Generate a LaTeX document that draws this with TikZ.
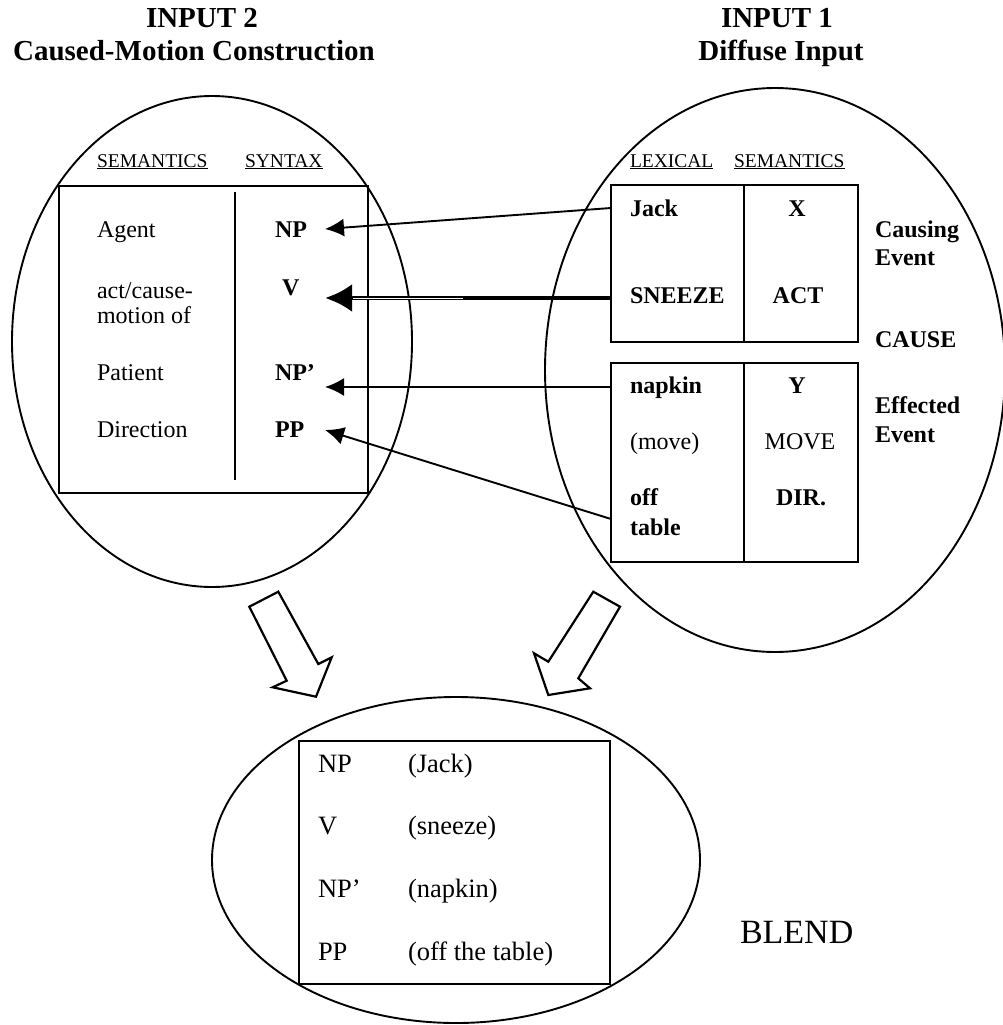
\documentclass[tikz,border=0pt]{standalone}
\usepackage{fontspec}
\setmainfont{Liberation Serif}
\usetikzlibrary{shapes.geometric,arrows.meta}
\begin{document}
\begin{tikzpicture}[x=1pt,y=-1pt,
  every node/.style={inner sep=0pt,outer sep=0pt},
  title/.style={font=\fontsize{29}{30}\selectfont\bfseries,anchor=base},
  head/.style={font=\fontsize{19.5}{20}\selectfont,anchor=base west},
  txt/.style={font=\fontsize{24}{25}\selectfont,anchor=base west},
  btxt/.style={font=\fontsize{24}{25}\selectfont\bfseries,anchor=base west},
  btxtc/.style={font=\fontsize{24}{25}\selectfont\bfseries,anchor=base},
  txtc/.style={font=\fontsize{24}{25}\selectfont,anchor=base},
  blendtxt/.style={font=\fontsize{26.5}{27}\selectfont,anchor=base west},
  ell/.style={draw,ellipse,line width=1.9},
  tbl/.style={draw,line width=2.2,anchor=north west},
  rule/.style={line width=2},
  link/.style={line width=1.9,-{Latex[length=19pt,width=18pt]}},
  biglink/.style={line width=4.5,-{Latex[length=27pt,width=28pt]}},
  hollow/.style={draw,line width=2.2,line join=miter,fill=white}]
\useasboundingbox (0,0) rectangle (1002,1025);

% titles
\node[title] (t2a) at (202,28) {INPUT 2};
\node[title] (t2b) at (194,60) {Caused-Motion Construction};
\node[title] (t1a) at (777,28) {INPUT 1};
\node[title] (t1b) at (781,60) {Diffuse Input};

% the three spaces
\node[ell,minimum width=400,minimum height=491] (in2) at (212,341.5) {};
\node[ell,minimum width=460,minimum height=564] (in1) at (775,370) {};
\node[ell,minimum width=488,minimum height=326] (blend) at (456,860) {};

% construction table
\node[tbl,minimum width=309,minimum height=307] (cxn) at (59,186) {};
\draw[rule] (235,192) -- (235,480);
\node[head] (semL) at (97,167) {\underline{SEMANTICS}};
\node[head] (synL) at (245,167) {\underline{SYNTAX}};
\node[txt] (agent) at (97,237) {Agent};
\node[txt] (act) at (97,298) {act/cause-};
\node[txt] (motion) at (97,323) {motion of};
\node[txt] (patient) at (97,380) {Patient};
\node[txt] (direction) at (97,437) {Direction};
\node[btxt] (np) at (275,237) {NP};
\node[btxt] (v) at (282,295) {V};
\node[btxt] (npp) at (275,380) {NP’};
\node[btxt] (pp) at (275,437) {PP};

% diffuse input tables
\node[tbl,minimum width=247,minimum height=157] (cev) at (611,185) {};
\draw[rule] (744,185) -- (744,342);
\node[tbl,minimum width=247,minimum height=199] (eev) at (611,363) {};
\draw[rule] (744,363) -- (744,562);
\node[head] (lexR) at (630,167) {\underline{LEXICAL}};
\node[head] (semR) at (734,167) {\underline{SEMANTICS}};
\node[btxt] (jack) at (630,216) {Jack};
\node[btxtc] (x) at (797,216) {X};
\node[btxt] (sneeze) at (630,303) {SNEEZE};
\node[btxtc] (actR) at (798,303) {ACT};
\node[btxt] (napkin) at (630,393) {napkin};
\node[btxtc] (y) at (797,393) {Y};
\node[txt] (move) at (630,449) {(move)};
\node[txtc] (moveR) at (800,449) {MOVE};
\node[btxt] (off) at (630,505) {off};
\node[btxt] (table) at (630,535) {table};
\node[btxtc] (dir) at (801,505) {DIR.};
\node[btxt] (causing) at (875,237) {Causing};
\node[btxt] (event1) at (875,265) {Event};
\node[btxt] (cause) at (875,347) {CAUSE};
\node[btxt] (effected) at (875,413) {Effected};
\node[btxt] (event2) at (875,442) {Event};

% cross-space mappings
\coordinate (m1s) at (611,208); \coordinate (m1e) at (325,229);
\coordinate (m2s) at (611,298); \coordinate (m2e) at (325,298);
\coordinate (m3s) at (611,387); \coordinate (m3e) at (325,387);
\coordinate (m4s) at (611,519); \coordinate (m4e) at (325,430);
\coordinate (m2a) at (353,298); \coordinate (m2b) at (463,298);
\draw[link] (m1s) -- (m1e);
\draw[biglink] (m2s) -- (m2e);
\draw[white,line width=1] (m2a) -- (m2b);
\draw[link] (m3s) -- (m3e);
\draw[link] (m4s) -- (m4e);

% projection arrows into the blend
\draw[hollow] (249.3,606.7) -- (278.3,591.7) -- (318.3,664) -- (331.7,657.3)
  -- (316,696.7) -- (272.7,687.3) -- (286.7,680.7) -- cycle;
\draw[hollow] (593.3,591.7) -- (620,606.7) -- (578.3,678.3) -- (590,688.3)
  -- (548.3,695) -- (534,653.3) -- (548.3,661.7) -- cycle;

% blended structure
\node[tbl,minimum width=311,minimum height=243] (bl) at (299,741) {};
\node[blendtxt] (bnp) at (318,772) {NP};
\node[blendtxt] (bjack) at (408,772) {(Jack)};
\node[blendtxt] (bv) at (318,834) {V};
\node[blendtxt] (bsneeze) at (408,834) {(sneeze)};
\node[blendtxt] (bnpp) at (318,897) {NP’};
\node[blendtxt] (bnapkin) at (408,897) {(napkin)};
\node[blendtxt] (bpp) at (318,960) {PP};
\node[blendtxt] (btable) at (408,960) {(off the table)};
\node[font=\fontsize{34}{35}\selectfont,anchor=base west] (blendlbl) at (740,943) {BLEND};
\end{tikzpicture}
\end{document}
